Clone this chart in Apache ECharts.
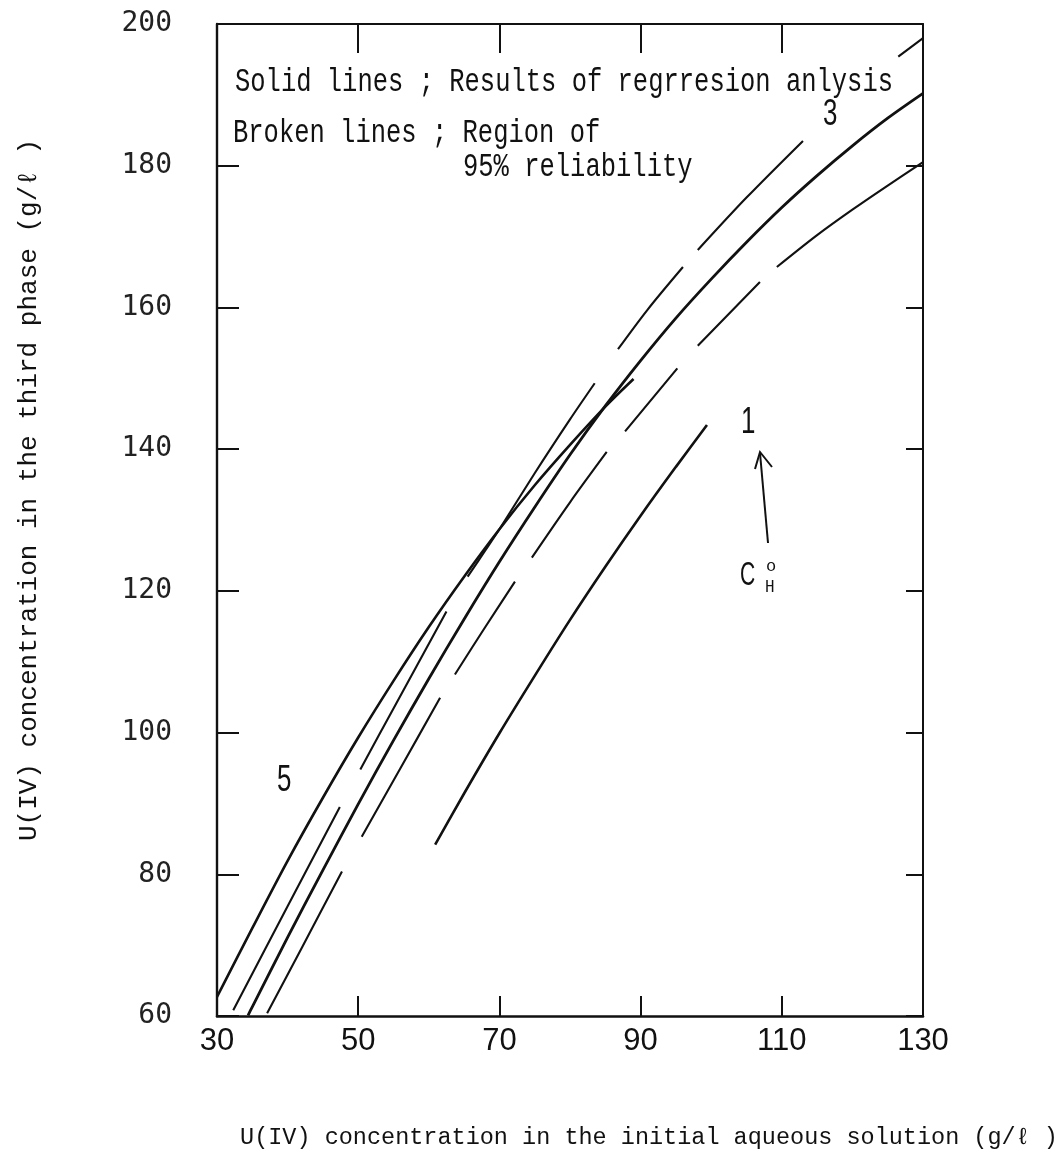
<!DOCTYPE html>
<html><head><meta charset="utf-8">
<script src="https://cdn.jsdelivr.net/npm/echarts/dist/echarts.min.js"></script>
<style>html,body{margin:0;padding:0;background:#fff}#c{width:1061px;height:1170px}</style>
</head><body><div id="c"></div>
<script>
// ---- axis ranges / ticks ----
const xMin = 30, xMax = 130, xStep = 20;
const yMin = 60, yMax = 200, yStep = 20;

// ---- regression curves (solid) ----
const curve5 = [[30,62.7],[35,72.4],[40,81.9],[45,90.8],[50,99.3],[55,107.3],[60,114.9],[65,122.0],[70,128.7],[75,134.9],[80,140.6],[85,146.0],[89,149.9]];
const curve3 = [[34.4,60.1],[35,61.3],[40,71.1],[45,80.6],[50,89.9],[55,98.9],[60,107.6],[65,116.0],[70,124.1],[75,131.8],[80,139.2],[85,146.1],[90,152.5],[95,158.5],[100,164.0],[105,169.2],[110,174.1],[115,178.6],[120,182.8],[125,186.7],[130,190.2]];
const curve1 = [[60.9,84.2],[65,91.4],[70,99.9],[75,108.0],[80,115.9],[85,123.4],[90,130.6],[95,137.5],[99.4,143.4]];

// ---- 95% reliability region of curve 3 (broken lines, one list per dash) ----
const upper3Segments = [
  [[32.3,60.8],[40,75.5],[47.4,89.5]],
  [[50.3,94.8],[55,103.4],[62.5,117.1]],
  [[65.5,122.0],[68,125.7],[70,128.7],[75,136.6],[80,144.2],[83.5,149.3]],
  [[86.8,154.1],[91,159.7],[96,165.7]],
  [[98.1,168.1],[105,175.5],[113,183.5]],
  [[126.5,195.4],[130,198]]
];
const lower3Segments = [
  [[37.1,60.4],[42,69.6],[47.7,80.4]],
  [[50.5,85.3],[56,95],[61.6,104.9]],
  [[63.7,108.2],[68,114.9],[72.2,121.3]],
  [[74.6,124.7],[80,132.5],[85.2,139.6]],
  [[87.8,142.5],[95.2,151.4]],
  [[98.1,154.6],[106.9,163.6]],
  [[109.3,165.7],[115,170.2],[120,173.8],[125,177.2],[130,180.5]]
];

// ---- texts ----
const xTitle = 'U(IV) concentration in the initial aqueous solution (g/ℓ )';
const yTitle = 'U(IV) concentration in the third phase (g/ℓ )';
const noteLines = ['Solid lines ; Results of regrresion anlysis', 'Broken lines ; Region of', '95% reliability'];
const curveLabels = ['5', '3', '1'];

function joinSegments(segs) {
  const out = [];
  segs.forEach((s, i) => {
    if (i > 0) {
      const prev = segs[i - 1][segs[i - 1].length - 1];
      out.push([(prev[0] + s[0][0]) / 2, '-']);
    }
    s.forEach(p => out.push(p));
  });
  return out;
}

const MONO = '"Liberation Mono", "DejaVu Sans Mono", monospace';
const SANS = '"Liberation Sans", Arial, sans-serif';
const INK = '#111';

const chart = echarts.init(document.getElementById('c'), null, {renderer: 'canvas'});

function solid(name, data, w) {
  return {name, type: 'line', data, smooth: 0.3, showSymbol: false, symbol: 'none',
    lineStyle: {color: INK, width: w}, clip: true, silent: true, z: 3};
}
function broken(name, segs) {
  return {name, type: 'line', data: joinSegments(segs), smooth: 0.3, showSymbol: false, symbol: 'none',
    connectNulls: false, lineStyle: {color: INK, width: 2.1}, clip: true, silent: true, z: 3};
}

const txt = (text, x, y, font, opts) => Object.assign({
  type: 'text', x, y, silent: true,
  style: {text, x: 0, y: 0, font, fill: INK, align: 'left', verticalAlign: 'middle'}
}, opts || {});

chart.setOption({
  animation: false,
  backgroundColor: '#fff',
  grid: {left: 217, right: 138, top: 24, bottom: 154, containLabel: false},
  xAxis: [{
    type: 'value', min: xMin, max: xMax, interval: xStep, position: 'bottom',
    name: xTitle, nameLocation: 'middle', nameGap: 110,
    nameTextStyle: {fontFamily: MONO, fontSize: 23.5, color: INK, padding: [0, 0, 0, 158]},
    axisLine: {show: true, onZero: false, lineStyle: {color: INK, width: 2.6}},
    axisTick: {show: true, inside: true, length: 20, lineStyle: {color: INK, width: 2}},
    axisLabel: {show: true, margin: 10, fontFamily: '"Liberation Sans Narrow", ' + SANS, fontSize: 31, color: INK},
    splitLine: {show: false}
  }, {
    type: 'value', min: xMin, max: xMax, interval: xStep, position: 'top',
    axisLine: {show: true, onZero: false, lineStyle: {color: INK, width: 2}},
    axisTick: {show: true, inside: true, length: 29, lineStyle: {color: INK, width: 2}},
    axisLabel: {show: false}, splitLine: {show: false}
  }],
  yAxis: [{
    type: 'value', min: yMin, max: yMax, interval: yStep, position: 'left',
    name: yTitle, nameLocation: 'middle', nameGap: 175, nameRotate: 90,
    nameTextStyle: {fontFamily: MONO, fontSize: 26, color: INK, padding: [0, 0, 0, 60]},
    axisLine: {show: true, onZero: false, lineStyle: {color: INK, width: 2.4}},
    axisTick: {show: true, inside: true, length: 22, lineStyle: {color: INK, width: 2}},
    axisLabel: {show: true, margin: 45, fontFamily: '"DejaVu Sans Mono", monospace', fontSize: 28, color: '#222'},
    splitLine: {show: false}
  }, {
    type: 'value', min: yMin, max: yMax, interval: yStep, position: 'right',
    axisLine: {show: true, onZero: false, lineStyle: {color: INK, width: 2}},
    axisTick: {show: true, inside: true, length: 17, lineStyle: {color: INK, width: 2}},
    axisLabel: {show: false}, splitLine: {show: false}
  }],
  series: [
    solid('C_H^0 = 5', curve5, 2.6),
    solid('C_H^0 = 3', curve3, 2.8),
    solid('C_H^0 = 1', curve1, 2.6),
    broken('upper 95% (3)', upper3Segments),
    broken('lower 95% (3)', lower3Segments)
  ],
  graphic: [
    txt(noteLines[0], 235, 82, '25.5px ' + MONO, {scaleY: 1.3}),
    txt(noteLines[1], 233, 133, '25.5px ' + MONO, {scaleY: 1.3}),
    txt(noteLines[2], 463, 167, '25.5px ' + MONO, {scaleY: 1.3}),
    txt(curveLabels[0], 277, 781, '36px ' + SANS, {scaleX: 0.72}),
    txt(curveLabels[1], 823, 115, '36px ' + SANS, {scaleX: 0.72}),
    txt(curveLabels[2], 741, 423, '36px ' + SANS, {scaleX: 0.72}),
    {type: 'polyline', silent: true, shape: {points: [[768, 543], [760, 453]]}, style: {stroke: INK, lineWidth: 2, fill: null}},
    {type: 'polyline', silent: true, shape: {points: [[755, 469], [760, 452], [772, 467]]}, style: {stroke: INK, lineWidth: 2, fill: null}},
    txt('C', 740, 576, '34px ' + SANS, {scaleX: 0.62}),
    txt('o', 766, 566, '17px ' + MONO),
    txt('H', 765, 587, '16px ' + MONO, {scaleY: 1.2})
  ]
});
</script>
</body></html>
